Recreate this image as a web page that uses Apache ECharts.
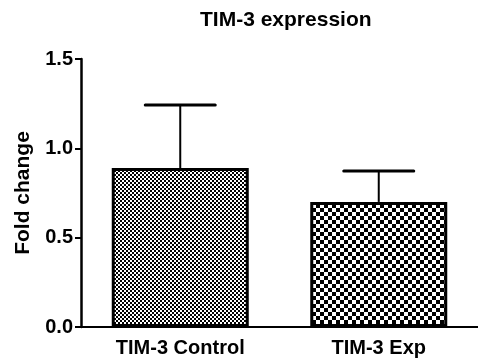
<!DOCTYPE html>
<html>
<head>
<meta charset="utf-8">
<script src="https://cdn.jsdelivr.net/npm/echarts@6/dist/echarts.min.js"></script>
<style>
  html, body { margin: 0; padding: 0; background: #fff; }
  #chart { width: 478px; height: 362px; }
</style>
</head>
<body>
<div id="chart"></div>
<script>
const categories = ['TIM-3 Control', 'TIM-3 Exp']
const means = [0.89, 0.70]
const sems = [0.353, 0.173]
const yTicks = [0, 0.5, 1.0, 1.5]

const font = 'Arial, "Liberation Sans", sans-serif'

// checkerboard fill, cell = size of one square in px
const checker = (cell) => {
  const c = document.createElement('canvas')
  c.width = cell * 2
  c.height = cell * 2
  const ctx = c.getContext('2d')
  ctx.fillStyle = '#fff'
  ctx.fillRect(0, 0, c.width, c.height)
  ctx.fillStyle = '#000'
  ctx.fillRect(0, 0, cell, cell)
  ctx.fillRect(cell, cell, cell, cell)
  return { image: c, repeat: 'repeat' }
}
const fills = [checker(2), checker(4)]

const chart = echarts.init(document.getElementById('chart'), null, { renderer: 'canvas' })

chart.setOption({
  animation: false,
  title: {
    text: 'TIM-3 expression',
    left: 195,
    top: 5,
    textStyle: { fontFamily: font, fontWeight: 'bold', fontSize: 21, color: '#000' },
  },
  grid: { left: 81, top: 59, width: 404, height: 268 },
  xAxis: {
    type: 'category',
    data: categories,
    axisLine: { lineStyle: { color: '#000', width: 2 } },
    axisTick: { alignWithLabel: true, length: 7, lineStyle: { color: '#000', width: 2 } },
    axisLabel: { fontFamily: font, fontWeight: 'bold', fontSize: 20, color: '#000', margin: 11 },
  },
  yAxis: {
    type: 'value',
    min: yTicks[0],
    max: yTicks[yTicks.length - 1],
    interval: 0.5,
    name: 'Fold change',
    nameLocation: 'middle',
    nameGap: 47,
    nameTextStyle: { fontFamily: font, fontWeight: 'bold', fontSize: 21, color: '#000' },
    splitLine: { show: false },
    axisLine: { show: true, lineStyle: { color: '#000', width: 2.5 } },
    axisTick: { show: true, length: 6, lineStyle: { color: '#000', width: 2 } },
    axisLabel: {
      fontFamily: font, fontWeight: 'bold', fontSize: 20, color: '#000', margin: 8,
      formatter: (v) => v.toFixed(1),
    },
  },
  series: [
    {
      type: 'bar',
      barWidth: 137,
      data: means.map((v, i) => ({
        value: v,
        itemStyle: { color: fills[i], borderColor: '#000', borderWidth: 3 },
      })),
      z: 2,
    },
    {
      type: 'custom',
      z: 3,
      data: means.map((v, i) => [i, v, v + sems[i]]),
      renderItem(params, api) {
        const base = api.coord([api.value(0), api.value(1)])
        const top = api.coord([api.value(0), api.value(2)])
        const half = 35
        return {
          type: 'group',
          children: [
            {
              type: 'line',
              shape: { x1: base[0], y1: base[1], x2: top[0], y2: top[1] },
              style: { stroke: '#000', lineWidth: 2 },
            },
            {
              type: 'line',
              shape: { x1: top[0] - half, y1: top[1], x2: top[0] + half, y2: top[1] },
              style: { stroke: '#000', lineWidth: 3, lineCap: 'round' },
            },
          ],
        }
      },
    },
  ],
})
</script>
</body>
</html>
